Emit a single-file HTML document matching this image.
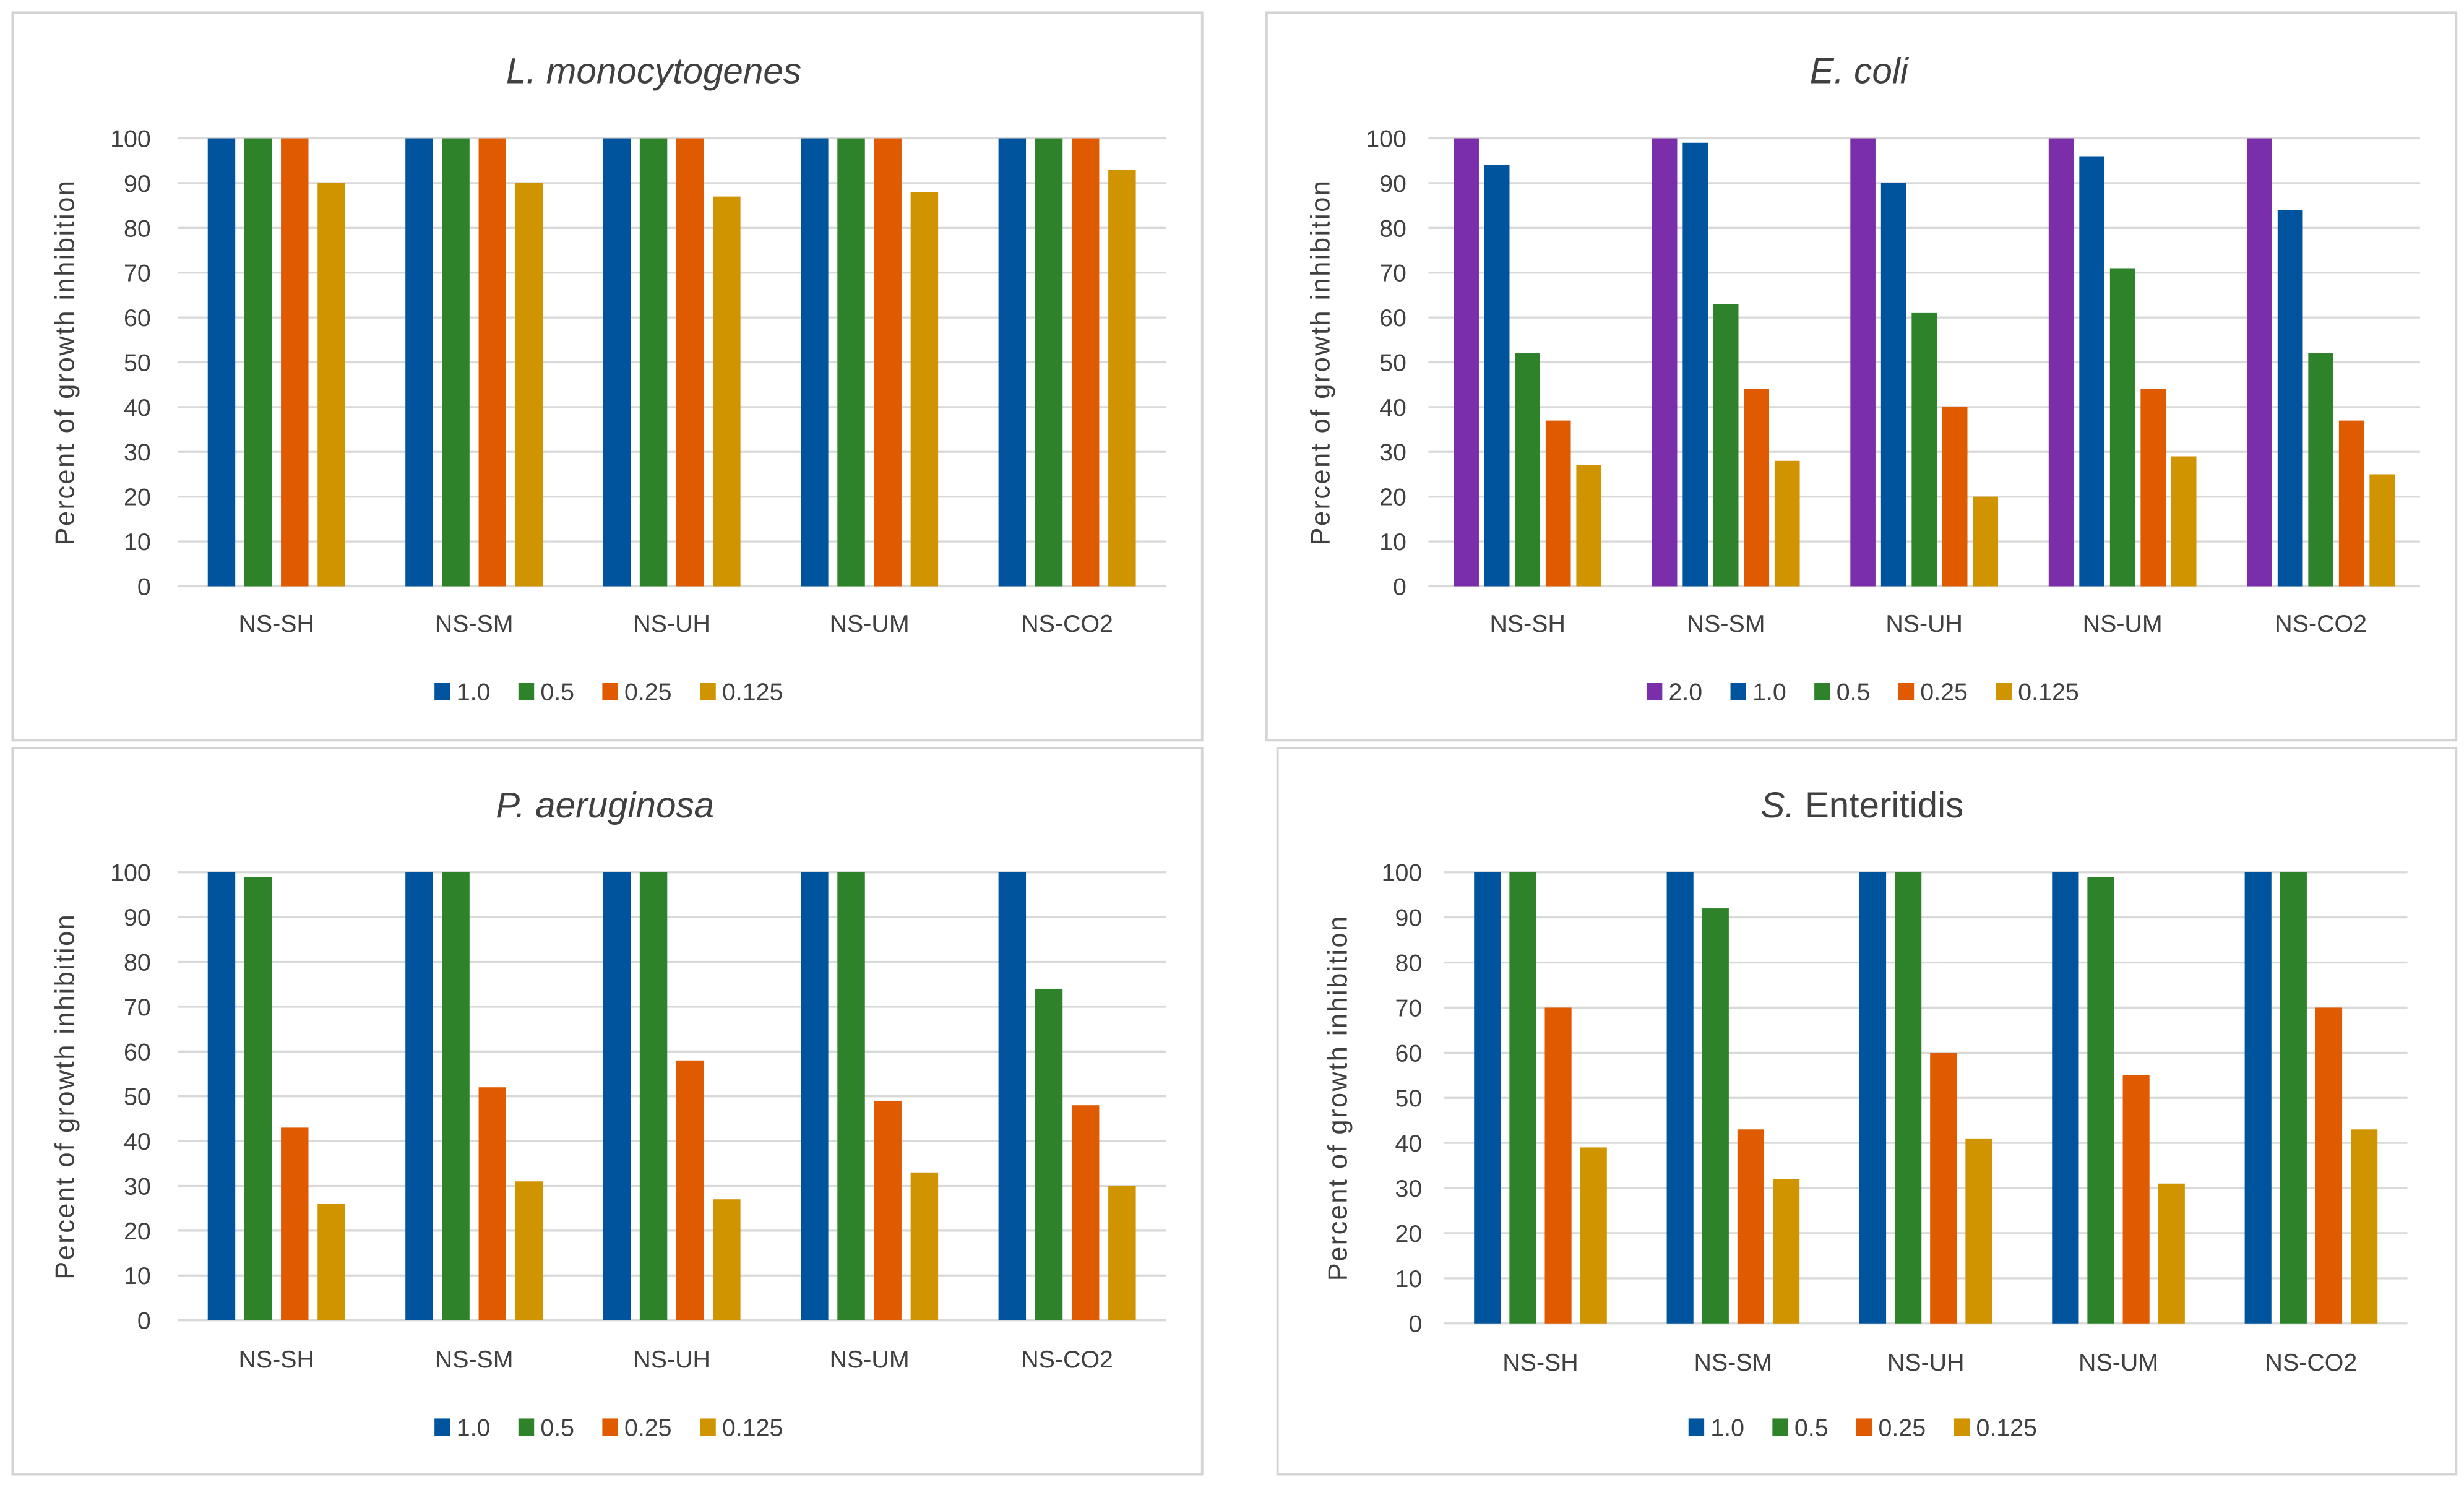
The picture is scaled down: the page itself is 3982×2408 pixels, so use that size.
<!DOCTYPE html>
<html><head><meta charset="utf-8"><style>
html,body{margin:0;padding:0;background:#fff}
svg{display:block}
text{font-family:"Liberation Sans",sans-serif;fill:#404040}
</style></head><body>
<svg id="fig" width="3982" height="2408" viewBox="0 0 1568 948" preserveAspectRatio="none" xmlns="http://www.w3.org/2000/svg"></svg>
<script>
const categories = ["NS-SH","NS-SM","NS-UH","NS-UM","NS-CO2"];
const yTicks = [0,10,20,30,40,50,60,70,80,90,100];
const listeriaSeries = ["1.0","0.5","0.25","0.125"];
const listeria10 = [100,100,100,100,100];
const listeria05 = [100,100,100,100,100];
const listeria025 = [100,100,100,100,100];
const listeria0125 = [90,90,87,88,93];
const ecoliSeries = ["2.0","1.0","0.5","0.25","0.125"];
const ecoli20 = [100,100,100,100,100];
const ecoli10 = [94,99,90,96,84];
const ecoli05 = [52,63,61,71,52];
const ecoli025 = [37,44,40,44,37];
const ecoli0125 = [27,28,20,29,25];
const paerSeries = ["1.0","0.5","0.25","0.125"];
const paer10 = [100,100,100,100,100];
const paer05 = [99,100,100,100,74];
const paer025 = [43,52,58,49,48];
const paer0125 = [26,31,27,33,30];
const salSeries = ["1.0","0.5","0.25","0.125"];
const sal10 = [100,100,100,100,100];
const sal05 = [100,92,100,99,100];
const sal025 = [70,43,60,55,70];
const sal0125 = [39,32,41,31,43];

const COLORS = {"2.0":"#7a2eaa","1.0":"#00549e","0.5":"#2e8229","0.25":"#e05a00","0.125":"#d09400"};
const NS="http://www.w3.org/2000/svg";
const svg=document.getElementById('fig');
function mk(tag,attrs,parent){const e=document.createElementNS(NS,tag);for(const k in attrs)e.setAttribute(k,attrs[k]);(parent||svg).appendChild(e);return e;}

const panels=[
 {id:"listeria",title:"L. monocytogenes",italic:"all",box:[8,8,757,463],x0:113,x1:742,yTop:88,yBot:373,tickX:96,ytX:47,catY:402,legY:440,legCx:390,series:listeriaSeries,data:[listeria10,listeria05,listeria025,listeria0125],step:23.3,bw:17.5,titleY:53,titleX:416},
 {id:"ecoli",title:"E. coli",italic:"all",box:[806,8,757,463],x0:909,x1:1540,yTop:88,yBot:373,tickX:895,ytX:846,catY:402,legY:440,legCx:1188,series:ecoliSeries,data:[ecoli20,ecoli10,ecoli05,ecoli025,ecoli0125],step:19.5,bw:16,titleY:53,titleX:1183},
 {id:"paeruginosa",title:"P. aeruginosa",italic:"all",box:[8,476,757,462],x0:113,x1:742,yTop:555,yBot:840,tickX:96,ytX:47,catY:870,legY:908,legCx:390,series:paerSeries,data:[paer10,paer05,paer025,paer0125],step:23.3,bw:17.5,titleY:520,titleX:385},
 {id:"senteritidis",title:"Enteritidis",italic:"S.",box:[813,476,750,462],x0:919,x1:1532,yTop:555,yBot:842,tickX:905,ytX:857,catY:872,legY:908,legCx:1188,series:salSeries,data:[sal10,sal05,sal025,sal0125],step:22.5,bw:17,titleY:520,titleX:1185}
];

panels.forEach(p=>{
 const g=mk('g',{});
 
 
 const b=mk('rect',{x:p.box[0],y:p.box[1],width:p.box[2],height:p.box[3],fill:'#fff',stroke:'#d4d4d4','stroke-width':1.5},g);
 
 
 const t=mk('text',{x:p.titleX,y:p.titleY,'text-anchor':'middle','font-size':23,fill:'#262626'},g);
 
 
 if(p.italic==="all"){t.setAttribute('font-style','italic');t.textContent=p.title;}
 else{const s1=mk('tspan',{'font-style':'italic'},t);s1.textContent=p.italic+' ';const s2=mk('tspan',{},t);s2.textContent=p.title;}
 const yS=v=>p.yBot-(v/100)*(p.yBot-p.yTop);
 yTicks.forEach(v=>{
  const l=mk('line',{x1:p.x0,x2:p.x1,y1:yS(v),y2:yS(v),stroke:'#d9d9d9','stroke-width':1.3},g);
  
  
  const tx=mk('text',{x:p.tickX,y:yS(v)+5.5,'text-anchor':'end','font-size':15.5},g);
  
  
  tx.textContent=v;
 });
 const ym=(p.yTop+p.yBot)/2;
 const yt=mk('text',{x:p.ytX,y:ym,'text-anchor':'middle','font-size':17,'letter-spacing':1,transform:`rotate(-90 ${p.ytX} ${ym})`,fill:'#262626'},g);
 
 
 yt.textContent='Percent of growth inhibition';
 const cw=(p.x1-p.x0)/categories.length;
 const xS=i=>p.x0+cw*(i+0.5);
 const n=p.series.length;
 categories.forEach((c,i)=>{
  const cx=xS(i);
  p.data.forEach((arr,k)=>{
   const bx=cx-(n-1)*p.step/2+k*p.step-p.bw/2;
   const r=mk('rect',{x:bx,y:yS(arr[i]),width:p.bw,height:yS(0)-yS(arr[i]),fill:COLORS[p.series[k]]},g);
   
   
  });
  const ct=mk('text',{x:cx,y:p.catY,'text-anchor':'middle','font-size':15.5},g);
  
  
  ct.textContent=c;
 });
 const widths=p.series.map(s=>14+s.length*8.8+13);
 const tot=widths.reduce((a,b)=>a+b,0)-13;
 let lx=p.legCx-tot/2;
 p.series.forEach((s,k)=>{
  const lg=mk('g',{},g);
  
  
  mk('rect',{x:lx,y:p.legY-5.5,width:10,height:11,fill:COLORS[s]},lg);
  const lt=mk('text',{x:lx+14,y:p.legY+5.5,'font-size':15.5},lg);
  lt.textContent=s;
  lx+=widths[k];
 });
});
</script>
</body></html>
